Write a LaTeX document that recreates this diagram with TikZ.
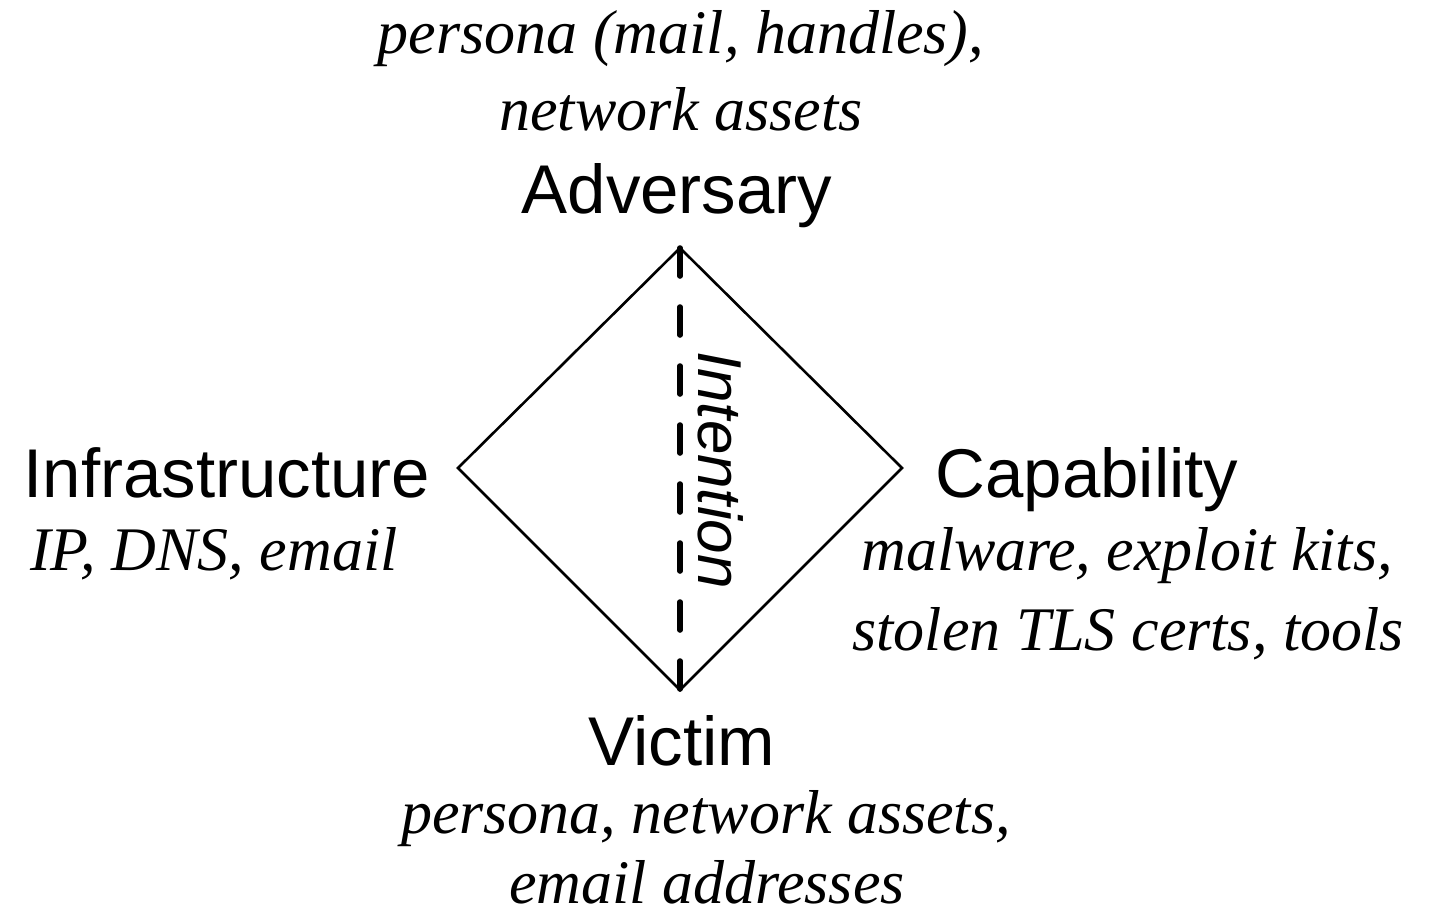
\documentclass[tikz,border=0pt]{standalone}
\usepackage{fontspec}
\setmainfont{Liberation Serif}
\setsansfont{Liberation Sans}
\usepackage{tikz}
\usetikzlibrary{calc}

\tikzset{
    corner/.style={font=\fontsize{34.5}{40}\selectfont\sffamily, inner sep=0pt, anchor=base},
    feature/.style={font=\fontsize{31}{37}\selectfont\itshape, inner sep=0pt, anchor=base},
}

\begin{document}
\begin{tikzpicture}[x=0.5pt, y=-0.5pt]
    \useasboundingbox (0,0) rectangle (1430,917);
    \coordinate (top) at (680,248);
    \coordinate (right) at (902,468);
    \coordinate (bot) at (680,690);
    \coordinate (left) at (458,468);
    \draw[line width=1.3pt, line join=miter] (top) -- (right) -- (bot) -- (left) -- cycle;
    \draw[line width=2.8pt, line cap=round, dash pattern=on 14pt off 15.5pt] (top) -- (bot);
    \node[font=\fontsize{31}{37}\selectfont\sffamily\itshape, inner sep=0pt, anchor=base, rotate=-90] (intent) at (698,470) {Intention};

    \node[corner] (adv)   at (677,213)  {Adversary};
    \node[corner] (infra) at (227,497)  {Infrastructure};
    \node[corner] (capab) at (1087,497) {Capability};
    \node[corner] (vict)  at (682,765)  {Victim};

    \node[feature] (advA)   at (681,53)   {persona (mail, handles),};
    \node[feature] (advB)   at (681,130)  {network assets};
    \node[feature] (infraA) at (214,570)  {IP, DNS, email};
    \node[feature] (capabA) at (1127,570) {malware, exploit kits,};
    \node[feature] (capabB) at (1128,650) {stolen TLS certs, tools};
    \node[feature] (victA)  at (706,833)  {persona, network assets,};
    \node[feature] (victB)  at (707,903)  {email addresses};
\end{tikzpicture}
\end{document}
